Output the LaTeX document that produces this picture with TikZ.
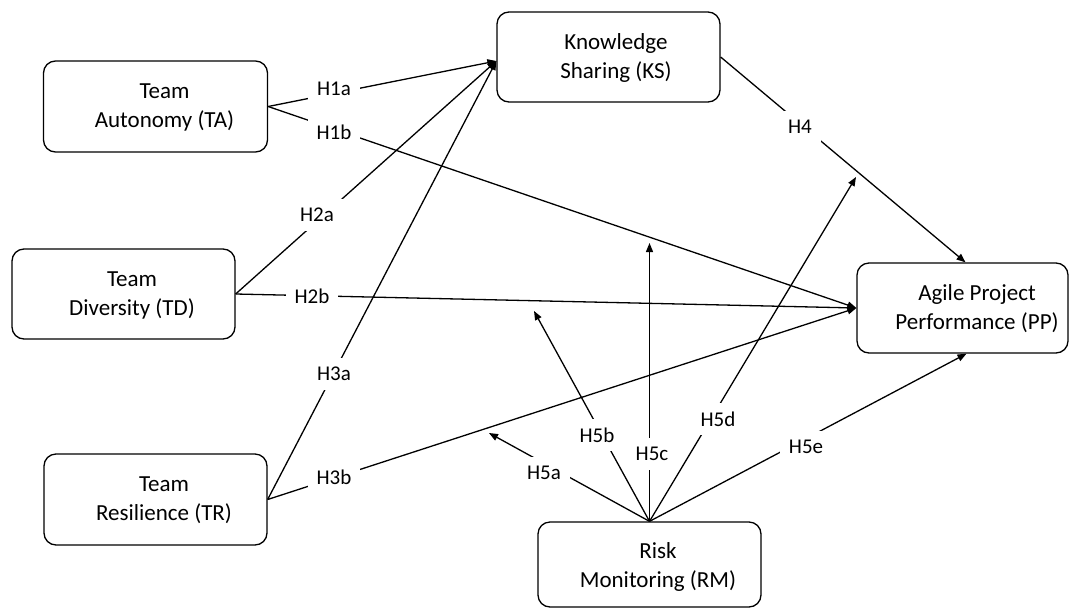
\documentclass[tikz,border=0pt]{standalone}
\usepackage{fontspec}
\setmainfont{Carlito}
\usetikzlibrary{arrows.meta,calc}
\begin{document}
\begin{tikzpicture}[x=1pt,y=-1pt,
  vbox/.style={draw, line width=1.3pt, rounded corners=12pt, minimum height=90pt, inner sep=0pt},
  btext/.style={align=center, font=\fontsize{23}{29}\selectfont, inner sep=0pt},
  conn/.style={line width=1.3pt, -{Triangle[length=9pt,width=7pt]}},
  lbl/.style={fill=white, inner sep=9pt, font=\fontsize{21}{25}\selectfont}]
\useasboundingbox (0,0) rectangle (1070,608);
% boxes
\node[vbox, minimum width=224pt, minimum height=91pt] (TA) at (155.5,106.5) {};
\node[vbox, minimum width=223pt] (KS) at (608.5,57) {};
\node[vbox, minimum width=223pt] (TD) at (123.5,294) {};
\node[vbox, minimum width=211pt] (PP) at (962.5,308) {};
\node[vbox, minimum width=223pt, minimum height=91pt] (TR) at (155.5,499.5) {};
\node[vbox, minimum width=223pt, minimum height=85pt] (RM) at (649.5,564.5) {};
% free ends of moderator arrows
\coordinate (c5a) at (489,433);
\coordinate (c5b) at (534,311);
\coordinate (c5c) at (649.5,243);
\coordinate (c5d) at (856,177);
% connectors
\draw[conn] (TA.east) -- ($(KS.west)+(0,4)$);
\draw[conn] (TA.east) -- (PP.west);
\draw[conn] (TD.east) -- ($(KS.west)+(0,4)$);
\draw[conn] (TD.east) -- (PP.west);
\draw[conn] (TR.east) -- ($(KS.west)+(0,4)$);
\draw[conn] (TR.east) -- (PP.west);
\draw[conn] (KS.east) -- ($(PP.north)+(3,0)$);
\draw[conn] (RM.north) -- (c5a);
\draw[conn] (RM.north) -- (c5b);
\draw[conn] (RM.north) -- (c5c);
\draw[conn] (RM.north) -- (c5d);
\draw[conn] (RM.north) -- ($(PP.south)+(4,0)$);
% labels
\node[lbl] (l1a) at (334,89) {H1a};
\node[lbl] (l1b) at (334,132) {H1b};
\node[lbl] (l2a) at (317,215) {H2a};
\node[lbl] (l2b) at (312,296) {H2b};
\node[lbl] (l3a) at (334,374) {H3a};
\node[lbl] (l3b) at (334,477) {H3b};
\node[lbl] (l4) at (800,127) {H4};
\node[lbl] (l5a) at (544,473) {H5a};
\node[lbl] (l5b) at (597,435) {H5b};
\node[lbl] (l5c) at (652,454) {H5c};
\node[lbl] (l5d) at (718,419) {H5d};
\node[lbl] (l5e) at (806,447) {H5e};
% box texts
\node[btext] (TAt) at (164.5,107.5) {Team\\Autonomy (TA)};
\node[btext] (KSt) at (616,57.5) {Knowledge\\Sharing (KS)};
\node[btext] (TDt) at (132,295) {Team\\Diversity (TD)};
\node[btext] (PPt) at (977,309) {Agile Project\\Performance (PP)};
\node[btext] (TRt) at (164,500.5) {Team\\Resilience (TR)};
\node[btext] (RMt) at (658,567) {Risk\\Monitoring (RM)};
\end{tikzpicture}
\end{document}
